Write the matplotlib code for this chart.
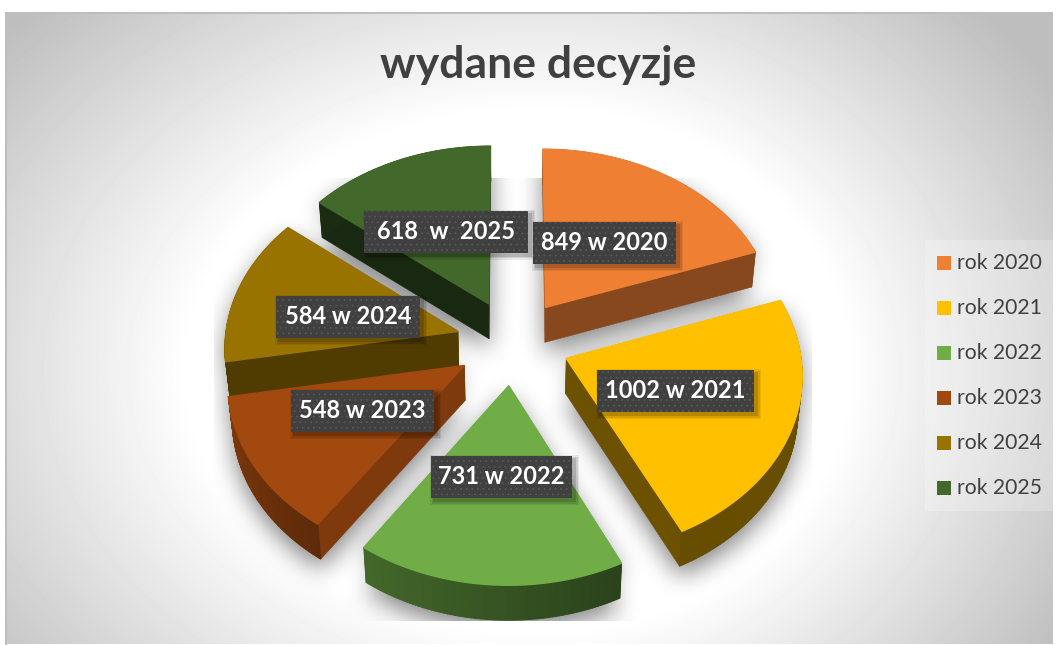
import numpy as np
import matplotlib
matplotlib.use("Agg")
import matplotlib.pyplot as plt
from matplotlib.path import Path
from matplotlib.patches import Polygon, Rectangle
from matplotlib.collections import PolyCollection

# ---- data ----
years = [2020, 2021, 2022, 2023, 2024, 2025]
decisions = [849, 1002, 731, 548, 584, 618]
label_texts = ["849 w 2020", "1002 w 2021", "731 w 2022", "548 w 2023", "584 w 2024", "618  w  2025"]
legend_labels = ["rok 2020", "rok 2021", "rok 2022", "rok 2023", "rok 2024", "rok 2025"]
title_text = "wydane decyzje"

# ---- style / layout ----
W, H = 1057, 645
colors = ["#EF7F33", "#FFC000", "#70AD47", "#A2490F", "#997300", "#43682B"]
rim_shade = [(0.57, 0.57), (0.42, 0.40), (0.38, 0.60), (0.58, 0.78), (0.52, 0.52), (0.42, 0.42)]
wall_shade = [0.57, 0.42, 0.55, 0.78, 0.52, 0.38]
cx, cy, Rx, Ry, persp, explode, depth, taper = 513, 342, 233, 176, 0.08, 0.245, 35, 0.985
label_centers = [(604.5, 243), (675.5, 391), (501.5, 477), (362.5, 411), (348, 317), (446, 231.5)]
label_widths = [143, 157, 141, 143, 144, 164]
label_height = 42
draw_order = [5, 0, 4, 1, 3, 2]
legend_y = [263, 308, 353, 398, 443, 488]


def project(X, Y, bottom=False):
    X, Y = np.asarray(X, float), np.asarray(Y, float)
    p = 1 / (1 + persp * Y)
    x = cx + X * Rx * p
    y = cy - Y * Ry * p
    if bottom:
        x = cx + (x - cx) * taper
        y = y + depth
    return np.column_stack([x, y])


def box_blur(a, r):
    for _ in range(3):
        for axis in (0, 1):
            pad = [(0, 0), (0, 0)]
            pad[axis] = (r + 1, r)
            c = np.cumsum(np.pad(a, pad, mode="edge"), axis=axis)
            if axis == 0:
                a = (c[2 * r + 1:, :] - c[:-2 * r - 1, :]) / (2 * r + 1)
            else:
                a = (c[:, 2 * r + 1:] - c[:, :-2 * r - 1]) / (2 * r + 1)
    return a


# slice geometry from the values
fracs = np.array(decisions, float) / sum(decisions)
edges = np.concatenate([[0], np.cumsum(fracs)]) * 2 * np.pi
slices = []
for i in range(len(decisions)):
    a0, a1 = edges[i], edges[i + 1]
    mid = (a0 + a1) / 2
    ox, oy = explode * np.sin(mid), explode * np.cos(mid)
    t = np.linspace(a0, a1, 80)
    slices.append(dict(t=t, ax=ox, ay=oy, X=ox + np.sin(t), Y=oy + np.cos(t)))

fig = plt.figure(figsize=(W / 100, H / 100), dpi=100, facecolor="white")
ax = fig.add_axes([0, 0, 1, 1])
ax.set_xlim(0, W)
ax.set_ylim(H, 0)
ax.axis("off")

# background
yy, xx = np.mgrid[0:H, 0:W]
rx_bg = np.where(xx < 540, 540.0, 470.0)
d = np.sqrt(((xx - 540) / rx_bg) ** 2 + ((yy - 370) / 400.0) ** 2)
g = np.maximum(255 - 100 * np.clip(d - 0.65, 0, None), 190)

# floor shadow
pts = np.column_stack([xx.ravel() + 0.5, yy.ravel() + 0.5])
mask = np.zeros((H, W))
for s in slices:
    poly = np.vstack([project([s["ax"]], [s["ay"]], True), project(s["X"], s["Y"], True)])
    top = np.vstack([project([s["ax"]], [s["ay"]]), project(s["X"], s["Y"])])
    for pp in (poly, top):
        mask = np.maximum(mask, Path(pp).contains_points(pts).reshape(H, W).astype(float))
shifted = np.roll(mask, 10, axis=0)
shadow = box_blur(shifted, 11)
clip = ((xx >= 214) & (xx <= 811) & (yy >= 178) & (yy <= 620)).astype(float)
g = g * (1 - 0.48 * shadow * clip)
panel = np.ones((H, W))
panel[12:644, 5:1053] = 0
img = np.where(panel > 0, 255, g) / 255.0
ax.imshow(img, cmap="gray", vmin=0, vmax=1, extent=(0, W, H, 0), aspect="auto",
          interpolation="nearest", zorder=0)
ax.plot([5.5, 5.5, 1052], [644, 12.5, 12.5], color="#BDBDBD", lw=1.4, zorder=1)


def shade(col, f):
    return np.clip(np.array(matplotlib.colors.to_rgb(col)) * f, 0, 1)


# slices, back to front
z = 2
for i in draw_order:
    s = slices[i]
    col = colors[i]
    apex_t = project([s["ax"]], [s["ay"]])
    apex_b = project([s["ax"]], [s["ay"]], True)
    t_pts = project(s["X"], s["Y"])
    b_pts = project(s["X"], s["Y"], True)
    wc = shade(col, wall_shade[i])
    for k in (0, -1):
        q = np.vstack([apex_t, t_pts[k], b_pts[k], apex_b])
        ax.add_patch(Polygon(q, closed=True, fc=wc, ec=wc, lw=0.4, zorder=z))
    quads, fcs = [], []
    n = len(t_pts)
    for j in range(n - 1):
        quads.append(np.vstack([t_pts[j], t_pts[j + 1], b_pts[j + 1], b_pts[j]]))
        f = rim_shade[i][0] + (rim_shade[i][1] - rim_shade[i][0]) * j / (n - 2)
        fcs.append(shade(col, f))
    ax.add_collection(PolyCollection(quads, facecolors=fcs, edgecolors=fcs, linewidths=0.7, zorder=z + 0.1))
    ax.add_patch(Polygon(np.vstack([apex_t, t_pts]), closed=True, fc=col, ec=col, lw=1.1, zorder=z + 0.2))
    z += 1

# title
ax.text(538, 65, title_text, ha="center", va="center", fontsize=32, fontweight="bold",
        family="Lato", color="#404040", zorder=30)

# data labels
matplotlib.rcParams["hatch.linewidth"] = 0.5
for k, (txt, (lx, ly), w) in enumerate(zip(label_texts, label_centers, label_widths)):
    zz = 20 + k * 0.1 if k != 0 else 20.9
    for grow, alpha in ((4, 0.07), (2.5, 0.10), (1, 0.14)):
        ax.add_patch(Rectangle((lx - w / 2 + 3 - grow, ly - label_height / 2 + 3 - grow), w + 2 * grow,
                               label_height + 2 * grow, fc="black", ec="none", alpha=alpha, zorder=zz))
    ax.add_patch(Rectangle((lx - w / 2, ly - label_height / 2), w, label_height, fc="#404040",
                           ec="#5A5A5A", hatch="...", lw=0, zorder=zz + 0.01))
    ax.text(lx, ly, txt, ha="center", va="center", fontsize=17, fontweight="bold", family="Lato",
            color="white", zorder=zz + 0.02)

# legend
ax.add_patch(Rectangle((925, 240), 129, 271, fc="white", ec="none", alpha=0.22, zorder=15))
for yv, col, lab in zip(legend_y, colors, legend_labels):
    ax.add_patch(Rectangle((937, yv - 7), 14, 14, fc=col, ec="none", zorder=16))
    ax.text(957, yv, lab, ha="left", va="center", fontsize=15.2, family="Lato", color="#404040", zorder=16)

fig.savefig("out.png", dpi=100)
